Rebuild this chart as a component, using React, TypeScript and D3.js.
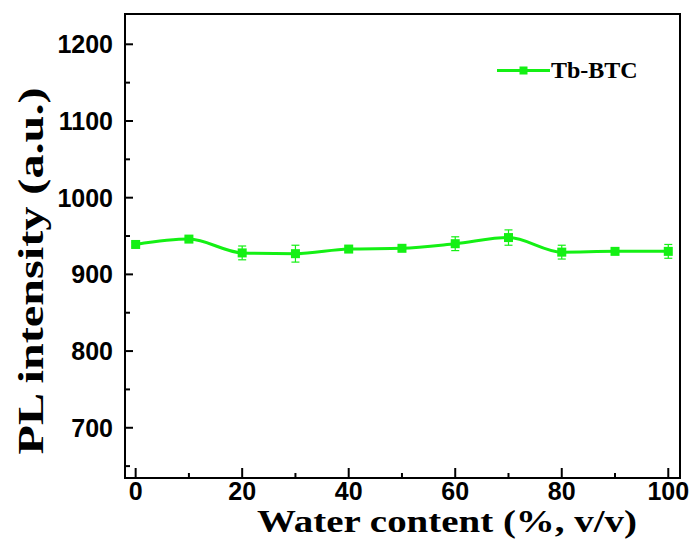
import React from 'react'
import * as d3 from 'd3'

// water content (%, v/v)
const waterContent = [0, 10, 20, 30, 40, 50, 60, 70, 80, 90, 100]
// PL intensity of Tb-BTC (a.u.)
const intensity = [939, 946, 928, 927, 933, 934, 940, 948, 929, 930, 930]
const errors = [3, 3, 9, 11, 4, 3, 9, 10, 9, 3, 9]
const xTicks = [0, 20, 40, 60, 80, 100]
const xMinor = [10, 30, 50, 70, 90]
const yTicks = [700, 800, 900, 1000, 1100, 1200]
const yMinor = [650, 750, 850, 950, 1050, 1150]
const seriesName = 'Tb-BTC'

const W = 697
const H = 542
const left = 125
const right = 680
const top = 14
const bottom = 478
const green = '#14f014'
const serif = '"Liberation Serif", "Times New Roman", serif'
const sans = '"Liberation Sans", Arial, sans-serif'

export default function App() {
  const x = d3.scaleLinear().domain([-2, 102.2]).range([left, right])
  const y = d3.scaleLinear().domain([634.5, 1239.5]).range([bottom, top])

  const points = waterContent.map((w, i) => ({ w, v: intensity[i], e: errors[i] }))
  const line = d3.line<{ w: number; v: number }>()
    .x(d => x(d.w))
    .y(d => y(d.v))
    .curve(d3.curveMonotoneX)

  const ms = 9

  return (
    <svg width={W} height={H} style={{ position: 'absolute', left: 0, top: 0, background: '#fff' }}>
      <rect x={0} y={0} width={W} height={H} fill="#fff" />

      {/* error bars */}
      {points.map((d, i) => (
        <g key={'e' + i} stroke={green} strokeWidth={1.2}>
          <line x1={x(d.w)} x2={x(d.w)} y1={y(d.v - d.e)} y2={y(d.v + d.e)} />
          <line x1={x(d.w) - 4} x2={x(d.w) + 4} y1={y(d.v - d.e)} y2={y(d.v - d.e)} />
          <line x1={x(d.w) - 4} x2={x(d.w) + 4} y1={y(d.v + d.e)} y2={y(d.v + d.e)} />
        </g>
      ))}

      <path d={line(points) || ''} fill="none" stroke={green} strokeWidth={3} />
      {points.map((d, i) => (
        <rect key={'m' + i} x={x(d.w) - ms / 2} y={y(d.v) - ms / 2} width={ms} height={ms} fill={green} />
      ))}

      {/* frame */}
      <rect x={left} y={top} width={right - left} height={bottom - top} fill="none" stroke="#000" strokeWidth={2} />

      {/* x ticks */}
      {xTicks.map(t => (
        <g key={'xt' + t}>
          <line x1={x(t)} x2={x(t)} y1={bottom} y2={bottom - 10} stroke="#000" strokeWidth={2} />
          <text x={x(t)} y={500} textAnchor="middle" fontFamily={sans} fontWeight="bold" fontSize={25}>{t}</text>
        </g>
      ))}
      {xMinor.map(t => (
        <line key={'xm' + t} x1={x(t)} x2={x(t)} y1={bottom} y2={bottom - 5} stroke="#000" strokeWidth={2} />
      ))}

      {/* y ticks */}
      {yTicks.map(t => (
        <g key={'yt' + t}>
          <line x1={left} x2={left + 8} y1={y(t)} y2={y(t)} stroke="#000" strokeWidth={2} />
          <text x={113} y={y(t) + 9} textAnchor="end" fontFamily={sans} fontWeight="bold" fontSize={25}>{t}</text>
        </g>
      ))}
      {yMinor.map(t => (
        <line key={'ym' + t} x1={left} x2={left + 5} y1={y(t)} y2={y(t)} stroke="#000" strokeWidth={2} />
      ))}

      {/* axis titles */}
      <text x={257} y={532} fontFamily={serif} fontWeight="bold" fontSize={32}
        textLength={380} lengthAdjust="spacingAndGlyphs">Water content (%, v/v)</text>
      <text transform="translate(43, 271) rotate(-90)" textAnchor="middle" fontFamily={serif} fontWeight="bold"
        fontSize={36} textLength={367} lengthAdjust="spacingAndGlyphs">PL intensity (a.u.)</text>

      {/* legend */}
      <line x1={497} x2={550} y1={70.5} y2={70.5} stroke={green} strokeWidth={3} />
      <rect x={523.5 - 4} y={70.5 - 4} width={8} height={8} fill={green} />
      <text x={551} y={77.5} fontFamily={serif} fontWeight="bold" fontSize={24}>{seriesName}</text>
    </svg>
  )
}
